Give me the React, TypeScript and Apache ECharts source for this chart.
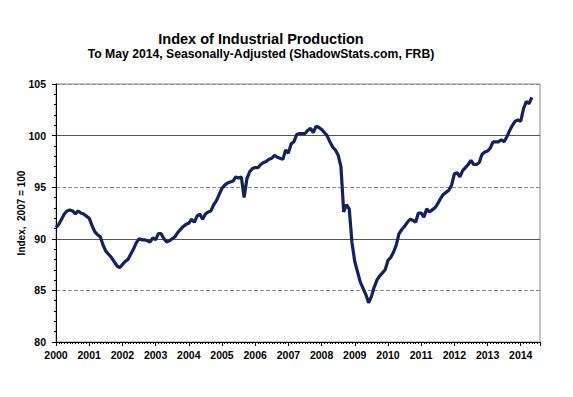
import React, { useEffect, useRef } from "react";
import * as echarts from "echarts";

const TITLE = "Index of Industrial Production";
const SUBTITLE = "To May 2014, Seasonally-Adjusted (ShadowStats.com, FRB)";
const Y_NAME = "Index,  2007 = 100";

const START_YEAR = 2000;
const X_MIN = 2000;
const X_MAX = 2014.58;
const Y_MIN = 80;
const Y_MAX = 105;
const Y_STEP = 5;

// Monthly index values, Jan..Dec of each year
const v2000 = [91.1, 91.4, 91.9, 92.4, 92.7, 92.8, 92.7, 92.4, 92.7, 92.5, 92.4, 92.2];
const v2001 = [92.0, 91.3, 90.7, 90.4, 90.2, 89.4, 88.8, 88.5, 88.2, 87.8, 87.4, 87.2];
const v2002 = [87.5, 87.8, 88.0, 88.5, 89.0, 89.6, 90.0, 89.9, 89.9, 89.8, 89.7, 90.1];
const v2003 = [89.9, 90.5, 90.5, 90.0, 89.7, 89.8, 90.0, 90.2, 90.6, 90.9, 91.2, 91.4];
const v2004 = [91.5, 91.9, 91.6, 92.2, 92.4, 91.9, 92.4, 92.6, 92.7, 93.3, 93.7, 94.3];
const v2005 = [94.9, 95.2, 95.4, 95.5, 95.6, 96.0, 95.9, 96.0, 94.0, 95.8, 96.5, 96.8];
const v2006 = [96.9, 96.9, 97.2, 97.4, 97.5, 97.7, 97.8, 98.1, 97.9, 97.8, 97.7, 98.6];
const v2007 = [98.3, 99.2, 99.4, 100.1, 100.2, 100.2, 100.2, 100.5, 100.7, 100.3, 100.9, 100.8];
const v2008 = [100.6, 100.3, 100.0, 99.4, 98.9, 98.6, 98.1, 97.0, 92.6, 93.3, 92.9, 89.6];
const v2009 = [87.8, 86.8, 85.8, 85.2, 84.6, 83.8, 84.4, 85.3, 86.0, 86.4, 86.7, 87.0];
const v2010 = [87.9, 88.2, 88.7, 89.4, 90.5, 90.9, 91.2, 91.6, 91.9, 91.8, 91.6, 92.5];
const v2011 = [92.5, 92.1, 92.9, 92.6, 92.8, 93.0, 93.4, 93.9, 94.3, 94.5, 94.7, 95.2];
const v2012 = [96.3, 96.4, 96.0, 96.6, 96.9, 97.2, 97.6, 97.2, 97.2, 97.4, 98.2, 98.4];
const v2013 = [98.5, 98.8, 99.4, 99.4, 99.4, 99.6, 99.4, 99.9, 100.5, 101.0, 101.4, 101.5];
const v2014 = [101.4, 102.6, 103.3, 103.1, 103.7];

const monthly = [
  ...v2000, ...v2001, ...v2002, ...v2003, ...v2004, ...v2005, ...v2006, ...v2007,
  ...v2008, ...v2009, ...v2010, ...v2011, ...v2012, ...v2013, ...v2014,
];

const FONT = "'Liberation Sans', Arial, sans-serif";

export default function App() {
  const ref = useRef<HTMLDivElement>(null);
  useEffect(() => {
    if (!ref.current) return;
    const chart = echarts.init(ref.current, null, { renderer: "svg" });
    const data = monthly.map((v, i) => [START_YEAR + i / 12, v]);
    chart.setOption({
      animation: false,
      backgroundColor: "#ffffff",
      grid: {
        left: 56,
        top: 84,
        right: 33,
        bottom: 55,
        show: true,
        borderColor: "#888888",
        borderWidth: 1,
        backgroundColor: "transparent",
      },
      graphic: [
        {
          type: "text",
          x: 261,
          y: 38.5,
          style: {
            text: TITLE,
            fontFamily: FONT,
            fontWeight: "bold",
            fontSize: 14.5,
            fill: "#000",
            textAlign: "center",
            textVerticalAlign: "middle",
          },
        },
        {
          type: "text",
          x: 261,
          y: 54,
          style: {
            text: SUBTITLE,
            fontFamily: FONT,
            fontWeight: "bold",
            fontSize: 12.2,
            fill: "#000",
            textAlign: "center",
            textVerticalAlign: "middle",
          },
        },
      ],
      xAxis: {
        type: "value",
        min: X_MIN,
        max: X_MAX,
        interval: 1,
        axisLine: { show: true, onZero: false, lineStyle: { color: "#000", width: 1 } },
        axisTick: { show: true, length: 4, lineStyle: { color: "#000" } },
        minorTick: { show: true, splitNumber: 12, length: 2, lineStyle: { color: "#000" } },
        splitLine: { show: false },
        axisLabel: {
          margin: 7,
          fontFamily: FONT,
          fontWeight: "bold",
          fontSize: 10.5,
          color: "#000",
          formatter: (v: number) => (Math.abs(v - Math.round(v)) < 1e-6 ? String(Math.round(v)) : ""),
        },
      },
      yAxis: [
        {
          type: "value",
          min: Y_MIN,
          max: Y_MAX,
          interval: Y_STEP,
          name: Y_NAME,
          nameLocation: "middle",
          nameGap: 30,
          nameMoveOverlap: false,
          nameTextStyle: { fontFamily: FONT, fontSize: 10, fontWeight: "bold", color: "#000" },
          axisLine: { show: true, lineStyle: { color: "#000", width: 1 } },
          axisTick: { show: true, length: 4, lineStyle: { color: "#000" } },
          minorTick: { show: true, splitNumber: 5, length: 2, lineStyle: { color: "#000" } },
          splitLine: { show: true, lineStyle: { color: ["#555555", "transparent"], width: 1, type: "solid" } },
          axisLabel: { margin: 10, fontFamily: FONT, fontWeight: "bold", fontSize: 10.5, color: "#000" },
        },
        {
          type: "value",
          min: Y_MIN,
          max: Y_MAX,
          interval: Y_STEP,
          position: "left",
          axisLine: { show: false },
          axisTick: { show: false },
          axisLabel: { show: false },
          splitLine: { show: true, lineStyle: { color: ["transparent", "#8a8a8a"], width: 1, type: [4, 2] } },
        },
      ],
      series: [
        {
          type: "line",
          data,
          yAxisIndex: 0,
          showSymbol: false,
          symbol: "none",
          smooth: false,
          lineStyle: { color: "#13215c", width: 3.2 },
          z: 5,
        },
      ],
    });
    return () => chart.dispose();
  }, []);
  return (
    <div
      ref={ref}
      style={{ position: "fixed", left: 0, top: 0, width: 573, height: 397, background: "#fff" }}
    />
  );
}
